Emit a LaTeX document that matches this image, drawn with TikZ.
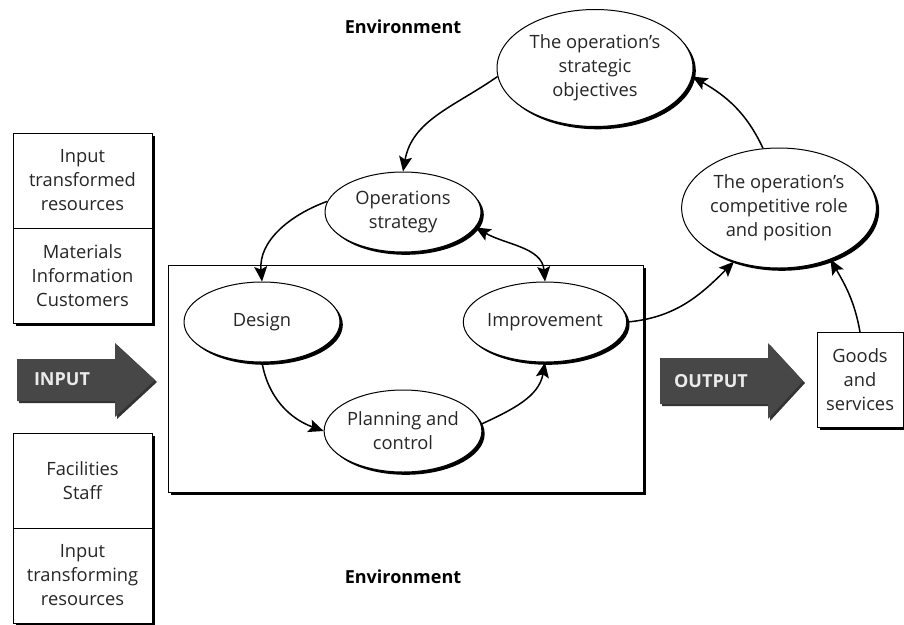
\documentclass[tikz,border=0pt]{standalone}
\usepackage{fontspec}
\setmainfont{Open Sans}
\usetikzlibrary{positioning,shapes.geometric,shadows,arrows.meta}

\begin{document}
\begin{tikzpicture}[x=1pt,y=-1pt,
   txt/.style={font=\fontsize{18.3}{24}\selectfont,text=black!85,align=center},
   oval/.style={ellipse,draw,line width=1pt,fill=white,inner sep=0pt,txt,
     drop shadow={shadow xshift=2.8pt,shadow yshift=-2.8pt,fill=black,opacity=1}},
   rbox/.style={rectangle,draw,line width=0.9pt,fill=white,inner sep=0pt,outer sep=0pt,txt,
     minimum width=139pt,minimum height=95pt,
     drop shadow={shadow xshift=2.5pt,shadow yshift=-2.5pt,fill=black,opacity=1}},
   flow/.style={line width=1.5pt,-{Stealth[length=15pt,width=13pt,inset=3pt]}},
   bigarrow/.style={fill=black!72,
     drop shadow={shadow xshift=2pt,shadow yshift=-2pt,fill=black!80,opacity=1}},
   arrowtext/.style={font=\fontsize{18}{20}\selectfont\bfseries,text=white!92!black},
   envtext/.style={font=\fontsize{18}{20}\selectfont\bfseries}]
\useasboundingbox (0,0) rectangle (904,624);

% operation box
\node[draw,line width=0.9pt,fill=white,minimum width=475pt,minimum height=227pt,
  drop shadow={shadow xshift=2.5pt,shadow yshift=-2.5pt,fill=black,opacity=1}] (opbox) at (405.5,378.5) {};

\node[envtext] (envtop) at (403,27) {Environment};
\node[envtext] (envbot) at (403,577) {Environment};

% ellipses
\node[oval,minimum width=196pt,minimum height=117pt] (obj) at (595,68) {The operation's\\strategic\\objectives};
\node[oval,minimum width=194pt,minimum height=120pt] (comp) at (779,208) {The operation's\\competitive role\\and position};
\node[oval,minimum width=156pt,minimum height=80pt] (ops) at (403,212) {Operations\\strategy};
\node[oval,minimum width=156pt,minimum height=80pt] (design) at (262,322) {Design};
\node[oval,minimum width=154pt,minimum height=80pt] (imp) at (545,322) {Improvement};
\node[oval,minimum width=156pt,minimum height=82pt] (plan) at (403,431) {Planning and\\control};

% input side
\node[rbox] (inA) at (82.5,180.5) {Input\\transformed\\resources};
\node[rbox,below=0pt of inA] (inB) {Materials\\Information\\Customers};
\node[rbox] (inC) at (82.5,480.5) {Facilities\\Staff};
\node[rbox,below=0pt of inC] (inD) {Input\\transforming\\resources};

\fill[bigarrow] (17,359) -- (115,359) -- (115,343) -- (155,380) -- (115,417) -- (115,401) -- (17,401) -- cycle;
\node[arrowtext] (input) at (62,379) {INPUT};

% output side
\fill[bigarrow] (660,358) -- (768,358) -- (768,343) -- (803,381) -- (768,419) -- (768,404) -- (660,404) -- cycle;
\node[arrowtext] (output) at (711,381) {OUTPUT};
\node[rbox,minimum width=86pt,minimum height=95pt] (goods) at (860,379.5) {Goods\\and\\services};

% connectors
\draw[flow] (obj.185) to[out=215,in=80] (ops.north);
\draw[flow] (ops.172) to[out=200,in=95] (design.north);
\draw[flow,{Stealth[length=15pt,width=13pt,inset=3pt]}-{Stealth[length=15pt,width=13pt,inset=3pt]}] (ops.-12) to[out=-30,in=95] (imp.north);
\draw[flow] (design.south) to[out=-80,in=160] (plan.west);
\draw[flow] (plan.5) to[out=25,in=-100] (imp.south);
\draw[flow] (imp.east) to[out=5,in=225] (comp.230);
\draw[flow] (goods.north) to[out=100,in=-60] (comp.-45);
\draw[flow] (comp.105) to[out=115,in=-30] (obj.-5);
\end{tikzpicture}
\end{document}
